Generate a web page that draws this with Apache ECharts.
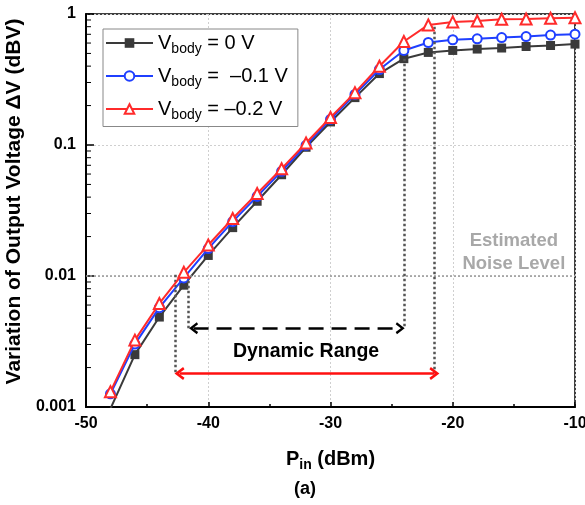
<!DOCTYPE html>
<html><head><meta charset="utf-8">
<script src="https://cdn.jsdelivr.net/npm/echarts@6/dist/echarts.min.js"></script>
<style>html,body{margin:0;padding:0;background:#fff}#c{width:585px;height:505px}</style>
</head><body><div id="c"></div>
<script>
// ---- data ----
const pin = [-48,-46,-44,-42,-40,-38,-36,-34,-32,-30,-28,-26,-24,-22,-20,-18,-16,-14,-12,-10];
const v0 = [0.00097,0.00251,0.00486,0.00851,0.01435,0.0234,0.0372,0.0593,0.0961,0.150,0.230,0.351,0.456,0.509,0.527,0.540,0.550,0.565,0.575,0.589];
const v1 = [0.00126,0.00302,0.00573,0.00966,0.0162,0.0260,0.0405,0.0630,0.0995,0.157,0.243,0.377,0.527,0.606,0.636,0.647,0.661,0.673,0.690,0.702];
const v2 = [0.00131,0.00324,0.00617,0.01067,0.01726,0.0275,0.0426,0.0658,0.1036,0.162,0.251,0.399,0.617,0.825,0.870,0.885,0.912,0.917,0.928,0.937];
const seriesNames = ['V0','V1','V2'];
const legendValues = ['= 0 V','=  \u20130.1 V','= \u20130.2 V'];
const xTickLabels = ['-50','-40','-30','-20','-10'];
const yTickLabels = ['0.001','0.01','0.1','1'];
const yMinorTicks = [0.002,0.003,0.004,0.005,0.006,0.007,0.008,0.009,0.02,0.03,0.04,0.05,0.06,0.07,0.08,0.09,0.2,0.3,0.4,0.5,0.6,0.7,0.8,0.9];
const noiseLevel = 0.01;
const noiseText = 'Estimated\nNoise Level';
const noiseTextAt = [-15.0, 0.0152];
const rangeText = 'Dynamic Range';
const rangeTextAt = [-32.0, 0.00266];
const dashedArrow = [-41.2, -24.3, 0.0040];
const redArrow = [-42.35, -21.5, 0.0018];
const dottedGuides = [[-41.65,0.0092,0.0040],[-42.7,0.0102,0.0018],[-24.0,0.456,0.0040],[-21.5,0.80,0.0018]];

// ---- chart ----
const FF = 'Liberation Sans, Arial, sans-serif';
const chevron = 'path://M10,0 L20,12 L16.5,14 L10,6 L3.5,14 L0,12 Z';
const chart = echarts.init(document.getElementById('c'), null, {renderer:'canvas'});
const colors = ['#3a3a3a','#1f3fff','#ff2b2b'];

function mkSeries(i, vals, symbol, size) {
  return {
    name: seriesNames[i], type:'line', data: pin.map((x,k)=>[x, vals[k]]),
    symbol: symbol, symbolSize: size, showSymbol: true, clip: true,
    lineStyle:{color:colors[i], width:2},
    itemStyle:{color: i===0 ? colors[0] : '#fff', borderColor: colors[i], borderWidth: i===0?0:2},
    z: 3+i
  };
}
const s0 = mkSeries(0, v0, 'rect', 9);
const s1 = mkSeries(1, v1, 'circle', 9);
const s2 = mkSeries(2, v2, 'triangle', 11);

const dotStyle = {color:'#555', width:2.5, type:[2.5,2.5]};
s0.markLine = {
  silent:true, animation:false, symbol:['none','none'], label:{show:false},
  data: [
    [{coord:[-50, noiseLevel], lineStyle:{color:'#999', width:1.5, type:[2,2]}}, {coord:[-10, noiseLevel]}],
    ...dottedGuides.map(g => [{coord:[g[0], g[1]], lineStyle:dotStyle}, {coord:[g[0], g[2]]}]),
    [{coord:[dashedArrow[0], dashedArrow[2]], symbol:chevron, symbolSize:[12,9], lineStyle:{color:'#000', width:2.5, type:[15,8]}},
     {coord:[dashedArrow[1], dashedArrow[2]], symbol:chevron, symbolSize:[12,9]}]
  ]
};
s2.markLine = {
  silent:true, animation:false, symbol:['none','none'], label:{show:false},
  data: [
    [{coord:[redArrow[0], redArrow[2]], symbol:chevron, symbolSize:[13,10], lineStyle:{color:'#ff1010', width:2.5, type:'solid'}},
     {coord:[redArrow[1], redArrow[2]], symbol:chevron, symbolSize:[13,10]}]
  ]
};
s1.markPoint = {
  silent:true, animation:false, symbol:'rect', symbolSize:0.01, itemStyle:{color:'rgba(0,0,0,0)'},
  data: [
    {coord:noiseTextAt, label:{show:true, position:'inside', formatter:noiseText, color:'#a8a8a8', fontFamily:FF, fontWeight:'bold', fontSize:18.5, lineHeight:23, align:'center'}},
    {coord:rangeTextAt, label:{show:true, position:'inside', formatter:rangeText, color:'#000', fontFamily:FF, fontWeight:'bold', fontSize:19.5}}
  ]
};

const minorTicks = {
  type:'custom', silent:true, clip:false, z:10,
  data: yMinorTicks.map(v => [-50, v]),
  renderItem: (params, api) => {
    const p = api.coord([api.value(0), api.value(1)]);
    return {type:'line', shape:{x1:p[0], y1:p[1], x2:p[0]+5, y2:p[1]}, style:{stroke:'#000', lineWidth:1}};
  }
};

const option = {
  animation:false,
  backgroundColor:'#fff',
  title:{text:'(a)', left:305, top:480, textAlign:'center', padding:0,
    textStyle:{fontFamily:FF, fontWeight:'bold', fontSize:18, color:'#000'}},
  grid:{left:86, right:10, top:14, bottom:98, show:true, borderColor:'#000', borderWidth:1.5, backgroundColor:'transparent',
    containLabel:false, outerBoundsMode:'none'},
  legend:{
    data: seriesNames, orient:'vertical', left:103, top:29,
    itemWidth:47, itemHeight:12, itemGap:9.5,
    padding:[4,10,4,2], borderColor:'#888', borderWidth:1, backgroundColor:'#fff',
    formatter: n => '{v|V}{s|body}{v| ' + legendValues[seriesNames.indexOf(n)] + '}',
    textStyle:{
      rich:{
        v:{fontFamily:FF, fontSize:20, color:'#000', lineHeight:24},
        s:{fontFamily:FF, fontSize:14, color:'#000', padding:[13,0,0,0]}
      }
    }
  },
  xAxis:{
    type:'value', min:-50, max:-10, interval:10,
    name:'{p|P}{s|in}{p| (dBm)}', nameLocation:'middle', nameGap:39,
    nameTextStyle:{rich:{
      p:{fontFamily:FF, fontWeight:'bold', fontSize:20, color:'#000', lineHeight:24},
      s:{fontFamily:FF, fontWeight:'bold', fontSize:14, color:'#000', padding:[12,0,0,0]}
    }},
    axisLine:{lineStyle:{color:'#000', width:2}},
    axisTick:{inside:true, length:5, lineStyle:{color:'#000', width:1.5}},
    minorTick:{show:true, splitNumber:2, length:3, lineStyle:{color:'#000', width:1.5}},
    splitLine:{show:true, lineStyle:{color:'#cfcfcf', width:1, type:[2,2]}},
    axisLabel:{margin:9, fontFamily:FF, fontWeight:'bold', fontSize:16, color:'#000',
      formatter: v => xTickLabels[Math.round((v+50)/10)]}
  },
  yAxis:{
    type:'log', logBase:10, min:0.001, max:1,
    name:'Variation of Output Voltage \u0394V (dBV)', nameLocation:'middle', nameGap:54,
    nameTextStyle:{fontFamily:FF, fontWeight:'bold', fontSize:21, color:'#000', padding:[0,0,0,18]},
    axisLine:{lineStyle:{color:'#000', width:2}},
    axisTick:{inside:true, length:8, lineStyle:{color:'#000', width:1.5}},
    minorTick:{show:false},
    splitLine:{show:true, lineStyle:{color:'#cfcfcf', width:1, type:[2,2]}},
    axisLabel:{margin:10, fontFamily:FF, fontWeight:'bold', fontSize:16, color:'#000',
      formatter: v => yTickLabels[Math.round(Math.log10(v)) + 3]}
  },
  series:[s0, s1, s2, minorTicks]
};
chart.setOption(option);
</script></body></html>
